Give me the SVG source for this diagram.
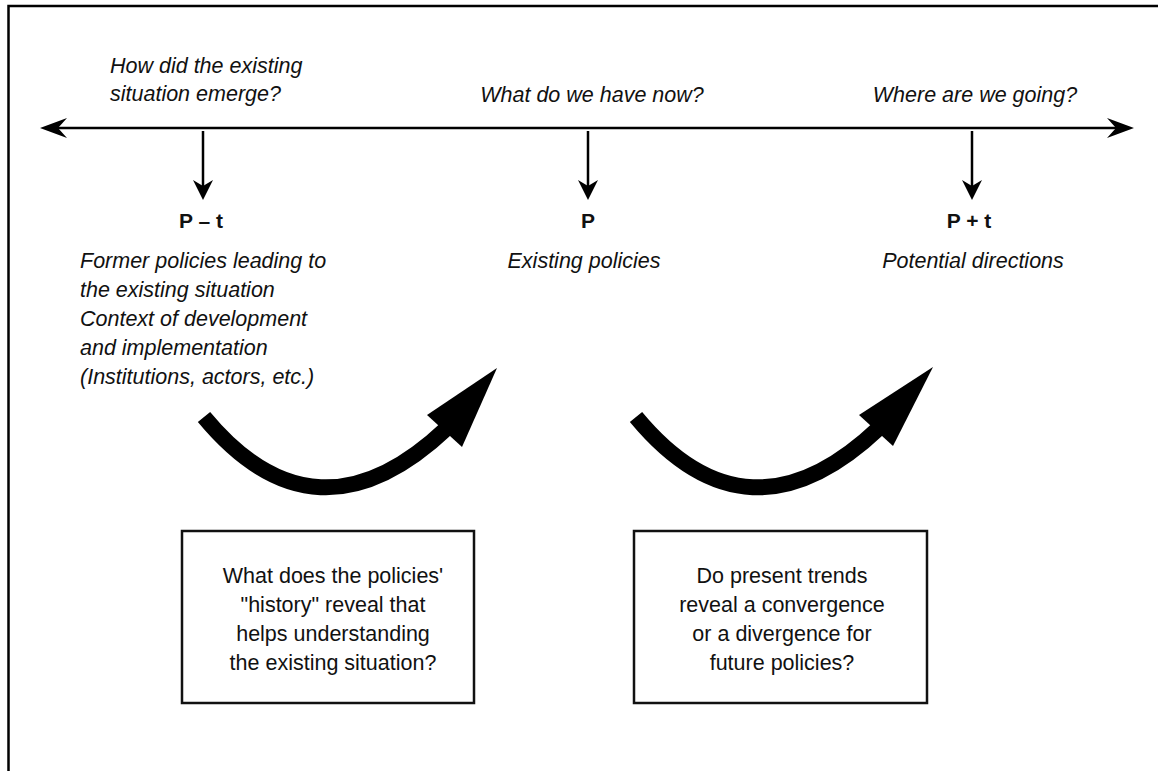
<svg xmlns="http://www.w3.org/2000/svg" width="1158" height="771" viewBox="0 0 1158 771">
<style>
  text { font-family: "Liberation Sans", Arial, sans-serif; fill: #111; }
  .it { font-style: italic; font-size: 21.5px; }
  .lbl { font-weight: bold; font-size: 21px; }
  .bx { font-size: 21.5px; text-anchor: middle; }
  .mid { text-anchor: middle; }
  .ln { stroke: #000; stroke-width: 2.5; fill: none; }
  .box { stroke: #111; stroke-width: 2.5; fill: #fff; }
  .curve { stroke: #000; stroke-width: 16; fill: none; }
  .head { fill: #000; }
</style>
<rect x="0" y="0" width="1158" height="771" fill="#fff"/>
<path d="M 8.5 771 L 8.5 6 L 1158 6" class="ln"/>

<g id="connectors">
  <!-- timeline -->
  <line x1="55" y1="128" x2="1120" y2="128" class="ln"/>
  <path d="M 40 128 L 67 118 L 58 128 L 67 138 Z" class="head"/>
  <path d="M 1134 128 L 1107 118 L 1116 128 L 1107 138 Z" class="head"/>
  <!-- down arrows -->
  <line x1="203" y1="131" x2="203" y2="188" class="ln"/>
  <path d="M 203 200 L 193 180 L 203 186 L 213 180 Z" class="head"/>
  <line x1="588" y1="131" x2="588" y2="188" class="ln"/>
  <path d="M 588 200 L 578 180 L 588 186 L 598 180 Z" class="head"/>
  <line x1="972" y1="131" x2="972" y2="188" class="ln"/>
  <path d="M 972 200 L 962 180 L 972 186 L 982 180 Z" class="head"/>
  <!-- curved arrows -->
  <path d="M 204 417 Q 316 552 447 428" class="curve"/>
  <path d="M 497 368 L 427 415 L 462 447 Z" class="head"/>
  <path d="M 636 417 Q 748 552 879 428" class="curve"/>
  <path d="M 933 367 L 859 415 L 893 446 Z" class="head"/>
</g>

<g id="q-past">
  <text class="it" x="110" y="73">How did the existing</text>
  <text class="it" x="110" y="101">situation emerge?</text>
</g>
<g id="q-now">
  <text class="it mid" x="592" y="102">What do we have now?</text>
</g>
<g id="q-future">
  <text class="it mid" x="975" y="102">Where are we going?</text>
</g>

<g id="node-past">
  <text class="lbl mid" x="201" y="228">P – t</text>
  <text class="it" x="80" y="268">Former policies leading to</text>
  <text class="it" x="80" y="297">the existing situation</text>
  <text class="it" x="80" y="326">Context of development</text>
  <text class="it" x="80" y="355">and implementation</text>
  <text class="it" x="80" y="384">(Institutions, actors, etc.)</text>
</g>
<g id="node-present">
  <text class="lbl mid" x="588" y="228">P</text>
  <text class="it mid" x="584" y="268">Existing policies</text>
</g>
<g id="node-future">
  <text class="lbl mid" x="969" y="228">P + t</text>
  <text class="it mid" x="973" y="268">Potential directions</text>
</g>

<g id="box-history">
  <rect x="182" y="531" width="292" height="172" class="box"/>
  <text class="bx" x="333" y="583">What does the policies'</text>
  <text class="bx" x="333" y="612">"history" reveal that</text>
  <text class="bx" x="333" y="641">helps understanding</text>
  <text class="bx" x="333" y="670">the existing situation?</text>
</g>
<g id="box-trends">
  <rect x="634" y="531" width="293" height="172" class="box"/>
  <text class="bx" x="782" y="583">Do present trends</text>
  <text class="bx" x="782" y="612">reveal a convergence</text>
  <text class="bx" x="782" y="641">or a divergence for</text>
  <text class="bx" x="782" y="670">future policies?</text>
</g>
</svg>
